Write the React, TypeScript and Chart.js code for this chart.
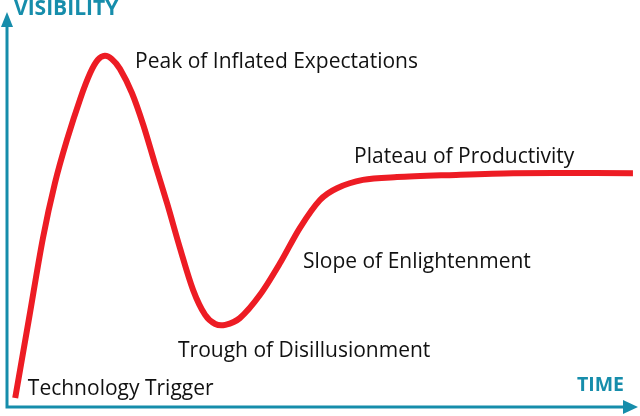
import React, { useEffect, useRef } from "react";
import { Chart, registerables } from "chart.js";

Chart.register(...registerables);

// Hype cycle curve: time (0-100) vs visibility (0-100)
const timeValues = [1.3, 3.5, 5.7, 7.6, 9.5, 11.6, 13.2, 14.4, 15.5, 16.6, 17.9, 19.8, 21.6, 23.5, 25.4, 27.4, 29.5, 31.4, 33.0, 34.6, 36.9, 40.1, 43.3, 46.4, 49.6, 52.3, 56.4, 61.8, 69.7, 80.2, 99.2];
const visibilityValues = [2.3, 22.5, 42.8, 56.7, 67.6, 78.0, 84.6, 87.9, 88.9, 88.1, 85.6, 79.5, 71.4, 61.3, 51.4, 40.3, 29.6, 23.3, 21.0, 20.8, 22.5, 28.4, 36.5, 45.3, 52.4, 55.4, 57.5, 58.2, 58.7, 59.2, 59.2];

const phaseLabels = ["Peak of Inflated Expectations", "Plateau of Productivity", "Slope of Enlightenment", "Trough of Disillusionment", "Technology Trigger"];
const phaseTimes = [20.3, 55.0, 46.9, 27.1, 3.3];
const phaseVisibility = [85.8, 61.8, 35.2, 12.7, 3.0];

const yAxisTitle = "VISIBILITY";
const xAxisTitle = "TIME";

const TEAL = "#168dab";
const RED = "#ed1c24";

const hypePlugin = {
  id: "hypeDecor",
  beforeDatasetsDraw(chart: any) {
    const { ctx, chartArea } = chart;
    const { left, right, top, bottom } = chartArea;
    ctx.save();
    ctx.strokeStyle = TEAL;
    ctx.fillStyle = TEAL;
    ctx.lineWidth = 3;
    ctx.beginPath();
    ctx.moveTo(left, top + 12);
    ctx.lineTo(left, bottom);
    ctx.lineTo(right - 12, bottom);
    ctx.stroke();
    ctx.beginPath();
    ctx.moveTo(left, top);
    ctx.lineTo(left - 6, top + 15);
    ctx.lineTo(left + 6, top + 15);
    ctx.closePath();
    ctx.fill();
    ctx.beginPath();
    ctx.moveTo(right, bottom);
    ctx.lineTo(right - 15, bottom - 7);
    ctx.lineTo(right - 15, bottom + 7);
    ctx.closePath();
    ctx.fill();
    ctx.restore();
  },
  afterDraw(chart: any) {
    const { ctx, chartArea, scales } = chart;
    ctx.save();
    ctx.fillStyle = "#111";
    ctx.textAlign = "left";
    ctx.textBaseline = "alphabetic";
    ctx.font = "21px 'Open Sans'";
    phaseLabels.forEach((label, i) => {
      const x = scales.x.getPixelForValue(phaseTimes[i]);
      const y = scales.y.getPixelForValue(phaseVisibility[i]);
      ctx.fillText(label, x, y);
    });
    ctx.fillStyle = TEAL;
    ctx.font = "bold 21px 'Open Sans'";
    ctx.fillText(yAxisTitle, chartArea.left + 7, chartArea.top + 3);
    ctx.textAlign = "right";
    ctx.font = "bold 19.5px 'Open Sans'";
    ctx.fillText(xAxisTitle, chartArea.right - 14, chartArea.bottom - 16);
    ctx.restore();
  },
};

export default function App() {
  const canvasRef = useRef<HTMLCanvasElement | null>(null);

  useEffect(() => {
    if (!canvasRef.current) return;
    const chart = new Chart(canvasRef.current, {
      type: "line",
      data: {
        datasets: [
          {
            data: timeValues.map((t, i) => ({ x: t, y: visibilityValues[i] })),
            borderColor: RED,
            borderWidth: 6,
            pointRadius: 0,
            tension: 0.3,
            fill: false,
          },
        ],
      },
      options: {
        animation: false,
        responsive: true,
        maintainAspectRatio: false,
        layout: { padding: { left: 7, right: 2, top: 12, bottom: 9 } },
        plugins: { legend: { display: false }, tooltip: { enabled: false }, title: { display: false } },
        scales: {
          x: { type: "linear", min: 0, max: 100, display: false },
          y: { type: "linear", min: 0, max: 100, display: false },
        },
      },
      plugins: [hypePlugin],
    });
    return () => chart.destroy();
  }, []);

  return (
    <div style={{ position: "fixed", left: 0, top: 0, width: 640, height: 416, background: "#fff" }}>
      <canvas ref={canvasRef} />
    </div>
  );
}
